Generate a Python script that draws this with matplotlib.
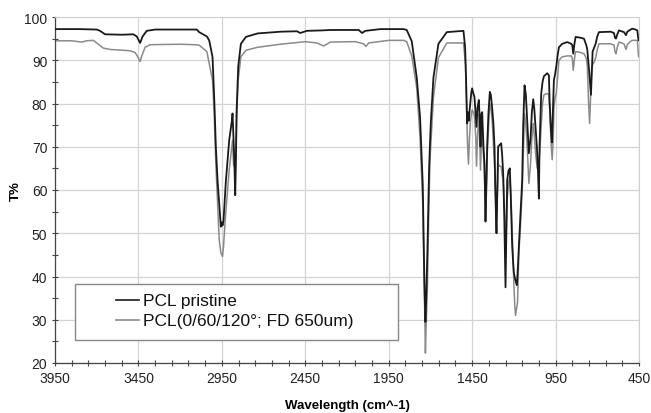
import matplotlib
matplotlib.use('Agg')
import matplotlib.pyplot as plt
from matplotlib.patches import Rectangle
from matplotlib.ticker import MultipleLocator, FixedLocator

plt.rcParams['font.family'] = ['Liberation Sans', 'DejaVu Sans']

# PCL pristine (black)
wn_pristine = [3950, 3800, 3700, 3680, 3650, 3550, 3480, 3460, 3440, 3425, 3400, 3350,
               3100, 3086, 3040, 3026, 3006, 2996, 2986, 2976, 2962, 2956, 2950, 2946,
               2940, 2926, 2906, 2890, 2886, 2880, 2876, 2870, 2866, 2862, 2852, 2836,
               2806, 2736, 2600, 2500, 2480, 2440, 2350, 2300, 2130, 2110, 2090, 2000,
               1860, 1842, 1812, 1782, 1762, 1746, 1736, 1730, 1726, 1718, 1708, 1698,
               1682, 1652, 1602, 1502, 1492, 1486, 1480, 1476, 1470, 1464, 1455, 1450,
               1444, 1436, 1428, 1424, 1418, 1410, 1404, 1400, 1394, 1390, 1382, 1376,
               1370, 1364, 1360, 1352, 1344, 1338, 1330, 1322, 1316, 1310, 1304, 1298,
               1294, 1284, 1276, 1270, 1264, 1258, 1250, 1246, 1240, 1232, 1224, 1218,
               1210, 1204, 1200, 1190, 1182, 1176, 1170, 1160, 1150, 1144, 1136, 1128,
               1120, 1110, 1100, 1092, 1084, 1078, 1070, 1062, 1056, 1050, 1046, 1036,
               1028, 1020, 1000, 990, 986, 978, 972, 966, 960, 952, 946, 938,
               930, 910, 880, 856, 850, 844, 838, 830, 800, 780, 766, 760,
               750, 742, 738, 734, 728, 720, 710, 700, 690, 620, 600, 594,
               588, 580, 570, 540, 528, 520, 500, 490, 470, 460, 456, 452, 450]
t_pristine = [97.2, 97.2, 97.1, 96.8, 96.0, 95.9, 96.0, 95.5, 94.0, 95.5, 96.8, 97.1,
              97.1, 96.5, 95.5, 94.6, 90.8, 81.5, 70.0, 62.3, 54.6, 51.5, 52.5, 51.8,
              53.0, 62.0, 71.5, 76.0, 77.7, 72.0, 67.7, 58.8, 66.0, 77.7, 88.5, 93.8,
              95.4, 96.2, 96.6, 96.7, 96.3, 96.8, 96.9, 97.0, 97.0, 96.3, 96.8, 97.2,
              97.2, 97.0, 94.4, 86.0, 76.7, 61.3, 38.2, 29.5, 34.0, 46.0, 65.0, 75.4,
              86.0, 93.8, 96.5, 96.8, 93.0, 85.0, 75.4, 78.0, 76.0, 79.0, 82.5, 83.5,
              82.5, 81.5, 77.0, 74.6, 79.0, 80.8, 76.0, 70.0, 77.7, 78.0, 70.0, 66.0,
              52.7, 62.0, 70.0, 78.0, 82.7, 82.0, 79.0, 75.0, 70.0, 58.0, 50.0, 62.0,
              70.0, 70.5, 70.8, 68.0, 63.8, 55.0, 37.5, 48.0, 62.3, 64.5, 65.0, 58.0,
              47.0, 43.0, 40.8, 39.0, 38.0, 42.0, 47.0, 54.6, 62.3, 75.0, 84.2, 82.0,
              76.0, 68.5, 72.0, 78.0, 81.0, 79.0, 74.6, 70.0, 65.0, 58.0, 70.0, 82.3,
              85.0, 86.3, 87.0, 86.5, 80.8, 74.0, 71.0, 78.0, 85.4, 87.0, 88.5, 91.0,
              93.0, 93.8, 94.2, 93.8, 93.5, 91.5, 93.5, 95.4, 95.2, 95.0, 93.5, 92.5,
              88.0, 84.0, 82.0, 86.0, 92.0, 92.8, 93.8, 95.5, 96.5, 96.6, 96.3, 95.2,
              95.0, 96.0, 96.9, 96.5, 95.8, 96.6, 97.1, 97.3, 97.1, 96.9, 95.5, 94.6, 94.6]

# PCL(0/60/120°; FD 650um) (grey)
wn_scaffold = [3950, 3850, 3790, 3760, 3720, 3700, 3660, 3620, 3500, 3470, 3450, 3440,
               3430, 3410, 3380, 3200, 3120, 3086, 3040, 3006, 2996, 2986, 2976, 2966,
               2956, 2946, 2940, 2930, 2906, 2890, 2886, 2880, 2874, 2866, 2860, 2852,
               2836, 2806, 2736, 2600, 2450, 2380, 2340, 2300, 2150, 2100, 2086, 2070,
               1950, 1860, 1842, 1812, 1782, 1762, 1746, 1736, 1730, 1726, 1718, 1710,
               1702, 1682, 1652, 1602, 1502, 1490, 1484, 1478, 1472, 1466, 1460, 1450,
               1442, 1436, 1428, 1424, 1418, 1410, 1404, 1400, 1394, 1390, 1382, 1376,
               1370, 1364, 1360, 1350, 1344, 1336, 1330, 1322, 1316, 1304, 1298, 1294,
               1284, 1276, 1270, 1264, 1256, 1250, 1244, 1240, 1230, 1224, 1216, 1210,
               1204, 1200, 1194, 1190, 1184, 1178, 1170, 1160, 1150, 1142, 1136, 1128,
               1120, 1110, 1100, 1092, 1084, 1076, 1070, 1060, 1050, 1044, 1036, 1028,
               1020, 1000, 990, 984, 976, 970, 964, 960, 952, 946, 940, 930,
               910, 880, 856, 850, 844, 838, 830, 800, 780, 766, 760, 752,
               746, 740, 734, 728, 720, 710, 700, 690, 620, 600, 594, 588,
               580, 570, 540, 528, 520, 500, 490, 470, 460, 456, 452, 450]
t_scaffold = [94.5, 94.5, 94.2, 94.5, 94.6, 94.0, 92.8, 92.5, 92.2, 91.8, 90.5, 89.7,
              91.0, 93.0, 93.6, 93.7, 93.6, 93.5, 92.0, 85.4, 78.0, 66.0, 57.0, 48.5,
              45.5, 44.6, 47.0, 53.0, 64.6, 70.0, 71.5, 66.0, 65.4, 68.5, 78.0, 85.4,
              90.8, 92.3, 93.0, 93.7, 94.3, 94.0, 93.3, 94.2, 94.3, 93.8, 93.2, 94.0,
              94.6, 94.6, 94.3, 91.0, 83.6, 72.0, 56.7, 35.0, 22.3, 28.0, 38.0, 55.0,
              67.5, 81.4, 90.6, 94.0, 94.0, 89.0, 80.0, 71.0, 66.0, 72.0, 76.0, 78.5,
              78.0, 77.0, 72.0, 65.5, 72.0, 77.5, 71.0, 64.6, 71.0, 75.4, 68.0, 63.8,
              55.0, 62.0, 68.0, 76.0, 80.0, 78.5, 76.0, 70.0, 66.0, 53.0, 60.0, 66.0,
              65.5, 65.4, 63.5, 62.3, 55.0, 47.0, 52.0, 58.0, 62.0, 63.0, 57.0, 50.0,
              44.0, 38.0, 33.0, 31.0, 32.5, 34.0, 45.4, 52.0, 60.0, 70.0, 77.7, 75.0,
              70.0, 61.5, 66.0, 72.0, 75.4, 72.0, 68.5, 65.0, 67.0, 69.0, 75.0, 80.0,
              82.0, 82.3, 82.0, 78.0, 70.0, 67.0, 72.0, 79.0, 81.5, 82.3, 85.0, 90.0,
              90.8, 91.0, 91.0, 90.5, 87.7, 90.0, 92.0, 91.8, 91.5, 90.5, 89.0, 80.0,
              75.4, 82.0, 88.0, 89.0, 89.5, 90.5, 92.5, 93.8, 93.8, 93.5, 92.0, 91.5,
              93.0, 94.2, 93.8, 92.5, 93.6, 94.4, 94.6, 94.6, 94.6, 92.5, 90.8, 91.0]

labels = ['PCL pristine', 'PCL(0/60/120°; FD 650um)']
colors = ['#1a1a1a', '#8a8a8a']
x_ticks = [3950, 3450, 2950, 2450, 1950, 1450, 950, 450]

fig = plt.figure(figsize=(6.51, 4.14), dpi=100)
ax = fig.add_axes([55 / 651, 1 - 364 / 414, 584 / 651, 346 / 414])

ax.plot(wn_pristine, t_pristine, color=colors[0], lw=1.3, zorder=3)
ax.plot(wn_scaffold, t_scaffold, color=colors[1], lw=1.1, zorder=2)

ax.set_xlim(3950, 450)
ax.set_ylim(20, 100)
ax.set_xticks(x_ticks)
ax.xaxis.set_minor_locator(FixedLocator(
    [v for v in range(3950, 449, -100) if v not in x_ticks]))
ax.yaxis.set_major_locator(MultipleLocator(10))
ax.yaxis.set_minor_locator(MultipleLocator(5))
ax.grid(True, which='major', color='#d4d4d4', lw=0.9, zorder=0)
ax.tick_params(which='both', direction='inout', length=5, width=0.8, colors='#444444',
               labelsize=10, labelcolor='#222222', pad=3)
for side in ['top', 'right']:
    ax.spines[side].set_color('#d0d0d0')
for side in ['left', 'bottom']:
    ax.spines[side].set_color('#444444')
    ax.spines[side].set_linewidth(0.9)

ax.set_xlabel('Wavelength (cm^-1)', fontsize=9.5, fontweight='bold')
ax.set_ylabel('T%', fontsize=9.5, fontweight='bold')
ax.xaxis.set_label_coords(0.5, -0.105)
ax.yaxis.set_label_coords(-0.056, 0.5)

# legend box drawn in axes coordinates
ax.add_patch(Rectangle((0.034, 0.066), 0.553, 0.162, transform=ax.transAxes,
                       facecolor='white', edgecolor='#888888', lw=1.0, zorder=5))
for i, lab in enumerate(labels):
    y = [0.182, 0.124][i]
    ax.plot([0.1045, 0.144], [y, y], transform=ax.transAxes, color=colors[i],
            lw=1.2, zorder=6)
    ax.text(0.151, y, lab, transform=ax.transAxes, fontsize=12.5, va='center',
            ha='left', color='#111111', zorder=6)

fig.savefig('out.png', dpi=100)
